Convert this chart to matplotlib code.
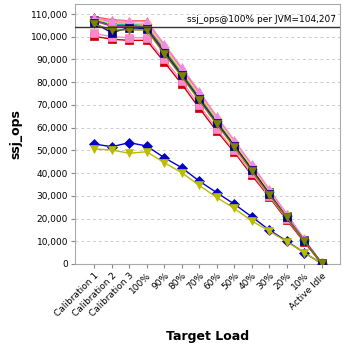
import matplotlib
matplotlib.use("Agg")
import matplotlib.pyplot as plt
from matplotlib.ticker import FuncFormatter, MultipleLocator

categories = ["Calibration 1", "Calibration 2", "Calibration 3", "100%", "90%", "80%",
              "70%", "60%", "50%", "40%", "30%", "20%", "10%", "Active Idle"]

# ssj_ops per JVM (thousands)
jvm_red = [100.2, 98.9, 98.4, 98.4, 88.9, 79.2, 68.6, 58.5, 49.3, 39.1, 29.5, 19.4, 9.7, 0.2]
jvm_blue = [52.8, 51.6, 53.4, 51.9, 46.8, 42.4, 36.5, 31.4, 26.4, 20.8, 15.0, 10.1, 5.0, 0.2]
jvm_green = [108.5, 106.0, 105.5, 105.0, 95.0, 84.5, 74.0, 63.0, 53.0, 42.5, 32.0, 21.5, 10.5, 0.3]
jvm_yellow = [50.6, 50.2, 48.7, 49.4, 44.6, 40.2, 34.6, 29.3, 24.5, 19.0, 14.5, 9.8, 5.0, 0.2]
jvm_magenta = [108.0, 106.5, 106.0, 105.5, 95.5, 85.0, 74.5, 63.5, 53.0, 42.5, 32.0, 21.0, 10.6, 0.3]
jvm_cyan = [107.0, 105.5, 105.5, 104.5, 94.5, 84.0, 73.5, 63.0, 52.5, 42.0, 31.5, 21.0, 10.5, 0.3]
jvm_pink = [101.5, 100.0, 99.6, 99.5, 90.0, 80.5, 70.0, 59.5, 50.0, 40.0, 30.0, 20.0, 10.0, 0.2]
jvm_gray = [106.5, 105.0, 104.5, 104.5, 94.0, 83.5, 73.0, 62.5, 52.5, 42.0, 31.5, 21.0, 10.5, 0.3]
jvm_salmon = [108.8, 107.5, 107.0, 107.0, 96.5, 86.0, 75.5, 64.5, 54.0, 43.5, 32.5, 22.0, 11.0, 0.3]
jvm_dkgreen = [107.5, 105.0, 105.0, 104.0, 94.0, 83.5, 73.0, 62.5, 52.0, 42.0, 31.5, 21.0, 10.5, 0.3]
jvm_orange = [107.8, 106.0, 106.0, 105.5, 95.5, 85.0, 74.5, 64.0, 53.5, 43.0, 32.0, 21.5, 10.8, 0.3]
jvm_purple = [107.2, 104.5, 104.5, 104.0, 93.5, 83.0, 73.0, 62.0, 52.0, 41.5, 31.0, 20.7, 10.4, 0.3]
jvm_violet = [108.2, 107.0, 106.8, 106.5, 96.8, 86.5, 76.0, 65.0, 54.5, 44.0, 33.0, 22.0, 11.0, 0.3]
jvm_navy = [106.0, 101.8, 104.0, 103.5, 93.0, 83.0, 72.5, 62.0, 52.0, 41.5, 31.0, 20.5, 10.3, 0.3]
jvm_olive = [105.5, 103.0, 103.0, 103.0, 92.5, 82.5, 72.0, 61.5, 51.5, 41.0, 30.5, 20.5, 10.2, 0.3]

ref_value = 104207

series = [
    (jvm_red, "#CC0000", "s"),
    (jvm_blue, "#0000CC", "D"),
    (jvm_green, "#00CC00", "^"),
    (jvm_yellow, "#BBBB00", "v"),
    (jvm_magenta, "#FF44FF", "o"),
    (jvm_cyan, "#00DDDD", "D"),
    (jvm_pink, "#FF88CC", "s"),
    (jvm_gray, "#AAAAAA", "o"),
    (jvm_salmon, "#FF5555", "^"),
    (jvm_dkgreen, "#008800", "s"),
    (jvm_orange, "#FFCC55", "D"),
    (jvm_purple, "#AA33AA", "v"),
    (jvm_violet, "#EE88EE", "^"),
    (jvm_navy, "#000088", "s"),
    (jvm_olive, "#808000", "v"),
]

fig = plt.figure(figsize=(3.48, 3.48), dpi=100)
ax = fig.add_axes([0.2155, 0.2414, 0.7615, 0.7471])

x = list(range(len(categories)))
for vals, color, marker in series:
    ax.plot(x, [v * 1000 for v in vals], color=color, marker=marker, markersize=5.5,
            linewidth=1.0, markeredgewidth=0.5, markeredgecolor=color, zorder=3)

ax.axhline(ref_value, color="#333333", linewidth=1.0, zorder=4)
ax.text(13.85, ref_value + 1200, "ssj_ops@100% per JVM=104,207", ha="right", va="bottom",
        fontsize=6.5, color="black", zorder=5)

ax.set_xlim(-1.1, 14.05)
ax.set_ylim(0, 114400)
ax.yaxis.set_major_locator(MultipleLocator(10000))
ax.yaxis.set_major_formatter(FuncFormatter(lambda v, p: f"{int(v):,}"))
ax.grid(axis="y", color="#CCCCCC", linestyle=(0, (3, 3)), linewidth=0.7)
ax.set_axisbelow(True)

ax.set_xticks(x)
ax.set_xticklabels(categories, rotation=45, ha="right", rotation_mode="anchor", fontsize=6.5)
ax.tick_params(axis="y", labelsize=6.5, length=3, color="#888888", pad=2)
ax.tick_params(axis="x", length=3, color="#888888", pad=2)
for s in ax.spines.values():
    s.set_color("#AAAAAA")

ax.set_ylabel("ssj_ops", fontsize=9, fontweight="bold", labelpad=6)
ax.set_xlabel("Target Load", fontsize=9, fontweight="bold", labelpad=8)

fig.savefig("out.png", dpi=100)
